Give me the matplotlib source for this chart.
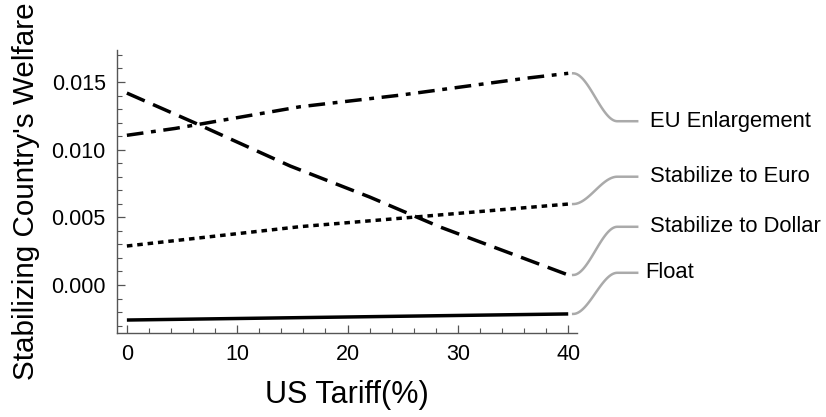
import matplotlib
matplotlib.use("Agg")
import matplotlib.pyplot as plt
import numpy as np
from matplotlib.ticker import MultipleLocator, FormatStrFormatter

plt.rcParams["font.family"] = ["Liberation Sans", "DejaVu Sans"]

# values
eu_tariff = [0, 4.4, 15.7, 24.8, 36.1, 40]
eu_enlargement = [0.01106, 0.01157, 0.01317, 0.01403, 0.01527, 0.01564]

euro_tariff = [0, 15.7, 24.8, 40]
stabilize_euro = [0.00288, 0.00431, 0.00493, 0.00598]

dollar_tariff = [0, 6.2, 14.8, 22.0, 28.4, 40]
stabilize_dollar = [0.01418, 0.01196, 0.00879, 0.00650, 0.00428, 0.00074]

float_tariff = [0, 40]
float_regime = [-0.00259, -0.00214]

series = [
    ("EU Enlargement", eu_tariff, eu_enlargement, (0, (4.8, 2.2, 1.4, 2.2)), 0.0121),
    ("Stabilize to Euro", euro_tariff, stabilize_euro, (0, (1.6, 1.4)), 0.0080),
    ("Stabilize to Dollar", dollar_tariff, stabilize_dollar, (0, (5.6, 2.6)), 0.0043),
    ("Float", float_tariff, float_regime, "-", 0.0009),
]

fig = plt.figure(figsize=(8.26, 4.17), dpi=100)
ax = fig.add_axes([0.1416, 0.2014, 0.5570, 0.6786])

for name, xs, vals, ls, label_y in series:
    ax.plot(xs, vals, color="black", linewidth=2.5, linestyle=ls,
            solid_capstyle="butt", dash_capstyle="butt")

    # gray S-shaped callout from line end to label
    x0, y0 = xs[-1] + 0.45, vals[-1]
    x1 = x0 + 4.0
    t = np.linspace(0, 1, 60)
    bx = (1 - t) ** 3 * x0 + 3 * (1 - t) ** 2 * t * (x0 + 1.4) \
        + 3 * (1 - t) * t ** 2 * (x1 - 1.4) + t ** 3 * x1
    by = (1 - t) ** 3 * y0 + 3 * (1 - t) ** 2 * t * y0 \
        + 3 * (1 - t) * t ** 2 * label_y + t ** 3 * label_y
    bx = np.append(bx, x1 + 1.8)
    by = np.append(by, label_y)
    ax.plot(bx, by, color="#aaaaaa", linewidth=1.8, clip_on=False)
    ax.text(x1 + 3.0 - (0.5 if name == "Float" else 0), label_y, name,
            fontsize=15.8, va="center", ha="left", clip_on=False)

ax.set_xlim(-0.9, 40.8)
ax.set_ylim(-0.00355, 0.01736)
ax.xaxis.set_major_locator(MultipleLocator(10))
ax.xaxis.set_minor_locator(MultipleLocator(2))
ax.yaxis.set_major_locator(MultipleLocator(0.005))
ax.yaxis.set_minor_locator(MultipleLocator(0.001))
ax.yaxis.set_major_formatter(FormatStrFormatter("%.3f"))

for side in ("top", "right"):
    ax.spines[side].set_visible(False)
for side in ("left", "bottom"):
    ax.spines[side].set_color("#555555")
    ax.spines[side].set_linewidth(1.0)

ax.tick_params(which="major", direction="in", length=6, width=0.9,
               color="#555555", labelsize=15.5, pad=8)
ax.tick_params(which="minor", direction="in", length=3.5, width=0.8,
               color="#555555")

ax.set_xlabel("US Tariff(%)", fontsize=22, labelpad=11)
ax.set_ylabel("Stabilizing Country's Welfare", fontsize=21.3, labelpad=8)

fig.savefig("out.png", dpi=100)
